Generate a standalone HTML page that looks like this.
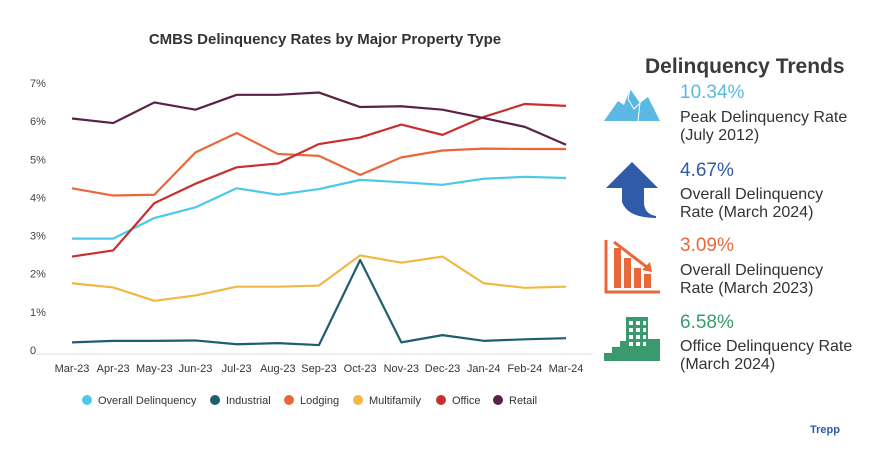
<!DOCTYPE html>
<html><head><meta charset="utf-8"><style>
body{margin:0;width:893px;height:457px;background:#fff;font-family:"Liberation Sans",sans-serif;overflow:hidden;position:relative}
.t{position:absolute;color:#333}
</style></head><body>
<svg id="chart" width="893" height="457" style="position:absolute;left:0;top:0">
<text x="325" y="44" text-anchor="middle" font-size="15" font-weight="bold" fill="#333">CMBS Delinquency Rates by Major Property Type</text>
<g id="axes"></g><g id="lines"></g><g id="legend"></g>
</svg>
<div class="t" style="left:645px;top:55px;font-size:21px;font-weight:bold;color:#3a3a3a">Delinquency Trends</div>

<svg style="position:absolute;left:604px;top:85px" width="56" height="36"><polygon points="0,36 14,16 20,20 26,4 36,18 44,12 56,36" fill="#5bb8e3"/><polyline points="26,4 24,14 30,24 36,18 34,36" fill="none" stroke="#fff" stroke-width="1"/></svg>
<div class="t" style="left:680px;top:82px;font-size:19px;color:#5bb8e3">10.34%</div>
<div class="t" style="left:680px;top:109px;font-size:16px;line-height:18px">Peak Delinquency Rate<br>(July 2012)</div>

<svg style="position:absolute;left:606px;top:162px" width="52" height="56"><path d="M26,0 L52,26 L38,26 L38,40 Q38,52 50,54 L50,56 Q22,56 16,40 L16,26 L0,26 Z" fill="#2f5ba8"/></svg>
<div class="t" style="left:680px;top:160px;font-size:19px;color:#2f5ba8">4.67%</div>
<div class="t" style="left:680px;top:186px;font-size:16px;line-height:18px">Overall Delinquency<br>Rate (March 2024)</div>

<svg style="position:absolute;left:604px;top:240px" width="56" height="54"><path d="M2,0 V52 H56" fill="none" stroke="#e8683a" stroke-width="3"/><rect x="10" y="8" width="7" height="40" fill="#e8683a"/><rect x="20" y="18" width="7" height="30" fill="#e8683a"/><rect x="30" y="28" width="7" height="20" fill="#e8683a"/><rect x="40" y="34" width="7" height="14" fill="#e8683a"/><path d="M10,2 L44,28" stroke="#e8683a" stroke-width="3"/><polygon points="48,32 38,30 46,22" fill="#e8683a"/></svg>
<div class="t" style="left:680px;top:235px;font-size:19px;color:#e8683a">3.09%</div>
<div class="t" style="left:680px;top:262px;font-size:16px;line-height:18px">Overall Delinquency<br>Rate (March 2023)</div>

<svg style="position:absolute;left:604px;top:315px" width="56" height="46"><path d="M0,46 V38 H8 V32 H16 V26 H22 V2 H44 V24 H56 V46 Z" fill="#3a9a6e"/><g fill="#fff"><rect x="25" y="6" width="4" height="4"/><rect x="32" y="6" width="4" height="4"/><rect x="39" y="6" width="3" height="4"/><rect x="25" y="13" width="4" height="4"/><rect x="32" y="13" width="4" height="4"/><rect x="39" y="13" width="3" height="4"/><rect x="25" y="20" width="4" height="4"/><rect x="32" y="20" width="4" height="4"/><rect x="39" y="20" width="3" height="4"/><rect x="25" y="27" width="4" height="4"/><rect x="32" y="27" width="4" height="4"/><rect x="39" y="27" width="3" height="4"/></g></svg>
<div class="t" style="left:680px;top:312px;font-size:19px;color:#3a9a6e">6.58%</div>
<div class="t" style="left:680px;top:338px;font-size:16px;line-height:18px">Office Delinquency Rate<br>(March 2024)</div>

<div class="t" style="left:810px;top:424px;font-size:11px;font-weight:bold;color:#2f5ba8">Trepp</div>

<script>
const categories=["Mar-23","Apr-23","May-23","Jun-23","Jul-23","Aug-23","Sep-23","Oct-23","Nov-23","Dec-23","Jan-24","Feb-24","Mar-24"];
const seriesNames=["Overall Delinquency","Industrial","Lodging","Multifamily","Office","Retail"];
const overall=[2.92,2.92,3.46,3.74,4.24,4.07,4.22,4.46,4.40,4.33,4.49,4.54,4.51];
const industrial=[0.20,0.24,0.24,0.25,0.15,0.18,0.13,2.36,0.20,0.39,0.24,0.28,0.31];
const lodging=[4.24,4.05,4.07,5.18,5.69,5.14,5.09,4.59,5.05,5.23,5.28,5.27,5.27];
const multifamily=[1.75,1.64,1.29,1.43,1.66,1.66,1.69,2.48,2.29,2.45,1.75,1.63,1.66];
const office=[2.45,2.61,3.85,4.36,4.79,4.89,5.40,5.57,5.91,5.64,6.11,6.45,6.40];
const retail=[6.07,5.95,6.49,6.30,6.69,6.69,6.75,6.37,6.39,6.30,6.08,5.85,5.38];
const yTicks=[0,1,2,3,4,5,6,7];
const yTickLabels=["0","1%","2%","3%","4%","5%","6%","7%"];

const NS="http://www.w3.org/2000/svg";
const colors=["#4dc8e9","#1e5e6e","#e8683a","#f2b843","#c8302e","#5a2245"];
const data=[overall,industrial,lodging,multifamily,office,retail];
const x=i=>72+i*(566-72)/(categories.length-1);
const y=v=>350-v*(350-83)/7;
function mk(tag,attrs,parent){const e=document.createElementNS(NS,tag);for(const k in attrs)e.setAttribute(k,attrs[k]);parent.appendChild(e);return e;}
const axes=document.getElementById('axes'),lines=document.getElementById('lines'),legend=document.getElementById('legend');
const base=mk('line',{x1:30,x2:592,y1:354,y2:354,stroke:'#ddd','stroke-width':1},axes);


yTicks.forEach((v,i)=>{const t=mk('text',{x:30,y:y(v)+4,'font-size':11,fill:'#444'},axes);t.textContent=yTickLabels[i];

});
categories.forEach((c,i)=>{const t=mk('text',{x:x(i),y:372,'font-size':11,fill:'#333','text-anchor':'middle'},axes);t.textContent=c;

});
data.forEach((s,k)=>{const p=mk('polyline',{points:s.map((v,i)=>x(i)+','+y(v)).join(' '),fill:'none',stroke:colors[k],'stroke-width':2.2,'stroke-linejoin':'round'},lines);

});
const lx=[87,215,289,358,441,498];
seriesNames.forEach((n,k)=>{const g=mk('g',{},legend);


mk('circle',{cx:lx[k],cy:400,r:5,fill:colors[k]},g);const t=mk('text',{x:lx[k]+11,y:404,'font-size':11,fill:'#333'},g);t.textContent=n;});
</script>
</body></html>
